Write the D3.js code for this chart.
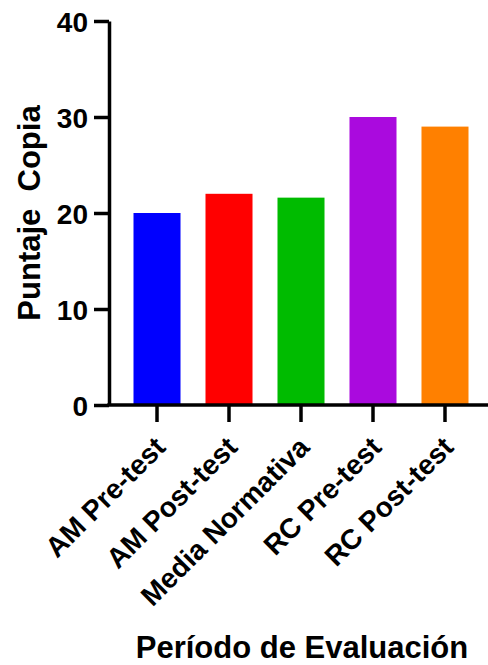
<!DOCTYPE html>
<html>
<head>
<meta charset="utf-8">
<script src="https://cdn.jsdelivr.net/npm/d3@7"></script>
<style>
  html, body { margin: 0; padding: 0; background: #fff; }
  svg text { font-family: "Liberation Sans", Arial, sans-serif; font-weight: bold; fill: #000; }
</style>
</head>
<body>
<svg id="chart" width="488" height="665"></svg>
<script>
const categories = ["AM Pre-test", "AM Post-test", "Media Normativa", "RC Pre-test", "RC Post-test"];
const values = [20, 22, 21.6, 30, 29];
const colors = ["#0000ff", "#ff0000", "#00bb00", "#aa0ade", "#ff8000"];
const yTicks = [0, 10, 20, 30, 40];
const yTitle = "Puntaje  Copia";
const xTitle = "Período de Evaluación";

const svg = d3.select("#chart");

const x = d3.scaleBand()
  .domain(categories)
  .range([121, 481])
  .paddingInner(0.347)
  .paddingOuter(0.1736);

const y = d3.scaleLinear().domain([0, 40]).range([405, 21]);

// bars
svg.append("g").selectAll("rect")
  .data(categories)
  .join("rect")
  .attr("x", d => x(d))
  .attr("width", x.bandwidth())
  .attr("y", (d, i) => y(values[i]))
  .attr("height", (d, i) => y(0) - y(values[i]))
  .attr("fill", (d, i) => colors[i]);

// y axis
const yAxis = svg.append("g")
  .attr("transform", "translate(109,0)")
  .call(d3.axisLeft(y).tickValues(yTicks).tickSize(15).tickPadding(6).tickSizeOuter(0));
yAxis.select(".domain").attr("stroke", "#000").attr("stroke-width", 3.5);
yAxis.selectAll(".tick line").attr("stroke", "#000").attr("stroke-width", 3.5);
yAxis.selectAll(".tick text")
  .style("font-size", "28px")
  .style("font-family", "'Liberation Sans', Arial, sans-serif")
  .style("font-weight", "bold")
  .attr("dy", "0.36em");

// x axis
const xAxis = svg.append("g")
  .attr("transform", "translate(0,405)")
  .call(d3.axisBottom(x).tickSize(17).tickSizeOuter(0));
xAxis.select(".domain").attr("d", "M107.3,0H488").attr("stroke", "#000").attr("stroke-width", 3.5);
xAxis.selectAll(".tick line").attr("stroke", "#000").attr("stroke-width", 3.5);
xAxis.selectAll(".tick text")
  .style("font-size", "28px")
  .style("font-family", "'Liberation Sans', Arial, sans-serif")
  .style("font-weight", "bold")
  .attr("text-anchor", "end")
  .attr("dy", null)
  .attr("y", 0)
  .attr("transform", "translate(10,44) rotate(-45)");

// y title
svg.append("text")
  .attr("transform", "translate(40,213) rotate(-90)")
  .attr("text-anchor", "middle")
  .style("white-space", "pre")
  .style("font-size", "31px")
  .text(yTitle);

// x title
svg.append("text")
  .attr("x", 302)
  .attr("y", 658)
  .attr("text-anchor", "middle")
  .style("font-size", "31px")
  .text(xTitle);
</script>
</body>
</html>
